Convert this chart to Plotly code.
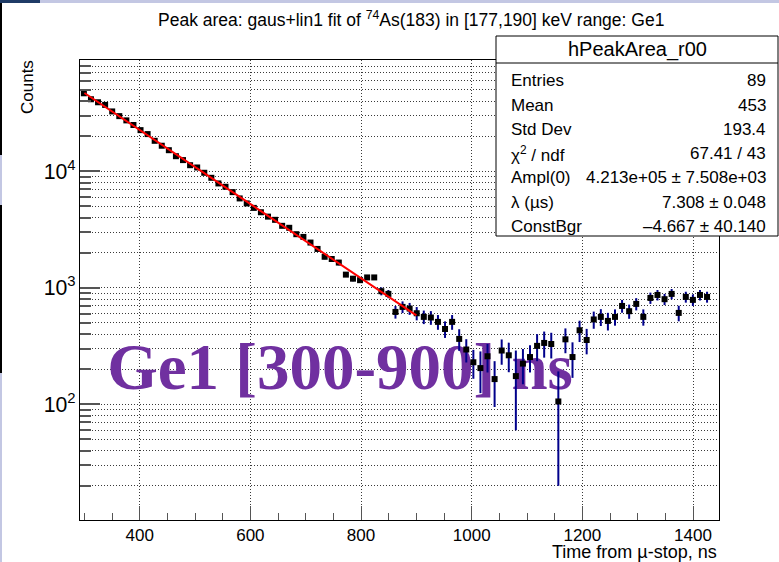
import numpy as np
import plotly.graph_objects as go

# ---- histogram contents: peak area per time bin (bin centres in ns) ----
time_ns = [
    299.0, 311.8, 324.6, 337.4, 350.2, 363.0, 375.8, 388.6, 401.4, 414.2,
    427.0, 439.8, 452.6, 465.4, 478.2, 491.0, 503.8, 516.6, 529.4, 542.2,
    555.0, 567.8, 580.6, 593.4, 606.2, 619.0, 631.8, 644.6, 657.4, 670.2,
    683.0, 695.8, 708.6, 721.4, 734.2, 747.0, 759.8, 772.6, 785.4, 798.2,
    811.0, 823.8, 836.6, 849.4, 862.2, 875.0, 887.8, 900.6, 913.4, 926.2,
    939.0, 951.8, 964.6, 977.4, 990.2, 1003.0, 1015.8, 1028.6, 1041.4, 1054.2,
    1067.0, 1079.8, 1092.6, 1105.4, 1118.2, 1131.0, 1143.8, 1156.6, 1169.4, 1182.2,
    1195.0, 1207.8, 1220.6, 1233.4, 1246.2, 1259.0, 1271.8, 1284.6, 1297.4, 1310.2,
    1323.0, 1335.8, 1348.6, 1361.4, 1374.2, 1387.0, 1399.8, 1412.6, 1425.4,
]
counts = [
    46800, 41600, 39200, 37200, 32700, 29800, 27400, 25000, 22600, 20900,
    18300, 16600, 15200, 13500, 12500, 11300, 10800, 9730, 8810, 7880,
    7380, 6640, 5860, 5310, 4860, 4460, 4090, 3840, 3410, 3280,
    2890, 2740, 2450, 2160, 1850, 1770, 1650, 1300, 1200, 1165,
    1230, 1230, 937, 888, 622, 687, 665, 606, 564, 557,
    511, 444, 511, 365, 296, 230, 205, 259, 165, 290,
    264, 175, 224, 255, 318, 337, 330, 106, 362, 255,
    433, 357, 536, 564, 521, 564, 700, 631, 729, 564,
    820, 870, 800, 888, 610, 837, 789, 870, 837,
]
count_err = [
    313, 296, 287, 280, 264, 253, 243, 233, 222, 215,
    202, 193, 186, 177, 171, 164, 161, 154, 148, 141,
    138, 132, 126, 122, 118, 115, 111, 109, 105, 104,
    100, 99, 96, 92, 89, 88, 87, 60, 60, 58,
    60, 60, 74, 72, 77, 79, 78, 79, 75, 75,
    74, 72, 74, 77, 67, 64, 80, 71, 70, 71,
    75, 115, 75, 67, 83, 85, 82, 86, 87, 86,
    90, 88, 90, 93, 90, 90, 88, 88, 88, 90,
    91, 90, 88, 90, 93, 90, 90, 90, 90,
]

# ---- fit result: Ampl(0) * exp(-lambda * t[us]) + ConstBgr ----
AMPL0 = 4.213e5
LAMBDA_US = 7.308
CONST_BGR = -4.667
FIT_LO, FIT_HI = 300.0, 900.0

stats_rows = [
    ("Entries", "89"),
    ("Mean", "453"),
    ("Std Dev", "193.4"),
    ("χ<sup>2</sup> / ndf", "67.41 / 43"),
    ("Ampl(0)", "4.213e+05 ± 7.508e+03"),
    ("λ (µs)", "7.308 ± 0.048"),
    ("ConstBgr", "–4.667 ± 40.140"),
]

# ---- canvas geometry (pixels) ----
W, H = 779, 562
ML, MR, MT, MB = 80, 60, 60, 42
PW = W - ML - MR
PH = H - MT - MB


def px(x):
    return (x - ML) / PW


def py(y):
    return (H - MB - y) / PH


FONT = "Liberation Sans, Arial, sans-serif"
GRID = "#3a3a3a"
TICK = "#555555"

fig = go.Figure()

# large overlay label, drawn underneath the data
fig.add_trace(go.Scatter(
    x=[762], y=[188], mode="text", text=["Ge1 [300-900] ns"],
    textfont=dict(family="Liberation Serif, Times New Roman, serif", size=65,
                  color="#7030a0", weight="bold"),
    hoverinfo="skip", showlegend=False,
))

# data points with vertical error bars
fig.add_trace(go.Scatter(
    x=time_ns, y=counts, mode="markers",
    marker=dict(symbol="square", size=6, color="black"),
    error_y=dict(type="data", array=count_err, color="#00008b",
                 thickness=2, width=0),
    showlegend=False,
))

# fitted curve
t_fit = np.linspace(FIT_LO, FIT_HI, 300)
y_fit = AMPL0 * np.exp(-LAMBDA_US * t_fit / 1000.0) + CONST_BGR
fig.add_trace(go.Scatter(
    x=t_fit, y=y_fit, mode="lines",
    line=dict(color="#ff0000", width=2),
    showlegend=False, hoverinfo="skip",
))

shapes = []
annotations = []

# statistics box
bx0, bx1, by0, by1, bsep = 496, 778, 36, 236, 63
shapes.append(dict(type="rect", xref="paper", yref="paper",
                   x0=px(bx0), x1=px(bx1), y0=py(by1), y1=py(by0),
                   fillcolor="white", line=dict(color="black", width=1),
                   layer="above"))
shapes.append(dict(type="line", xref="paper", yref="paper",
                   x0=px(bx0), x1=px(bx1), y0=py(bsep), y1=py(bsep),
                   line=dict(color="black", width=1), layer="above"))
annotations.append(dict(text="hPeakArea_r00", xref="paper", yref="paper",
                        x=px((bx0 + bx1) / 2), y=py(50), xanchor="center",
                        yanchor="middle", showarrow=False,
                        font=dict(family=FONT, size=20, color="black")))
row_y0, row_dy = 81, 24.2
for k, (lab, val) in enumerate(stats_rows):
    yy = py(row_y0 + k * row_dy)
    annotations.append(dict(text=lab, xref="paper", yref="paper", x=px(509),
                            y=yy, xanchor="left", yanchor="middle",
                            showarrow=False,
                            font=dict(family=FONT, size=17, color="black")))
    annotations.append(dict(text=val, xref="paper", yref="paper", x=px(768),
                            y=yy, xanchor="right", yanchor="middle",
                            showarrow=False,
                            font=dict(family=FONT, size=17, color="black")))

# title
annotations.append(dict(
    text="Peak area: gaus+lin1 fit of <sup>74</sup>As(183) in [177,190] keV range: Ge1",
    xref="paper", yref="paper", x=px(411), y=py(19), xanchor="center",
    yanchor="middle", showarrow=False,
    font=dict(family=FONT, size=17.5, color="black")))

# axis titles
annotations.append(dict(text="Time from µ-stop, ns", xref="paper", yref="paper",
                        x=1.0, y=py(552), xanchor="right", yanchor="middle",
                        showarrow=False,
                        font=dict(family=FONT, size=18, color="black")))
annotations.append(dict(text="Counts", xref="paper", yref="paper",
                        x=px(27), y=py(87), xanchor="center", yanchor="middle",
                        textangle=-90, showarrow=False,
                        font=dict(family=FONT, size=17, color="black")))

# window edge strips
edge = "#c3c7e3"
shapes += [
    dict(type="rect", xref="paper", yref="paper", x0=px(0), x1=px(40),
         y0=py(3), y1=py(0), fillcolor="#1f3b66", line=dict(width=0), layer="above"),
    dict(type="rect", xref="paper", yref="paper", x0=px(40), x1=px(W),
         y0=py(3), y1=py(0), fillcolor=edge, line=dict(width=0), layer="above"),
    dict(type="rect", xref="paper", yref="paper", x0=px(0), x1=px(2),
         y0=py(155), y1=py(3), fillcolor="black", line=dict(width=0), layer="above"),
    dict(type="rect", xref="paper", yref="paper", x0=px(0), x1=px(2),
         y0=py(205), y1=py(155), fillcolor=edge, line=dict(width=0), layer="above"),
    dict(type="rect", xref="paper", yref="paper", x0=px(0), x1=px(2),
         y0=py(373), y1=py(205), fillcolor="black", line=dict(width=0), layer="above"),
    dict(type="rect", xref="paper", yref="paper", x0=px(0), x1=px(2),
         y0=py(H), y1=py(373), fillcolor=edge, line=dict(width=0), layer="above"),
]

fig.update_layout(
    width=W, height=H,
    margin=dict(l=ML, r=MR, t=MT, b=MB, pad=0),
    paper_bgcolor="white", plot_bgcolor="white",
    showlegend=False,
    shapes=shapes, annotations=annotations,
    xaxis=dict(
        range=[292, 1447], showline=True, linecolor="black", linewidth=1,
        mirror=True, zeroline=False,
        tick0=0, dtick=200, ticks="inside", ticklen=14, tickwidth=1,
        tickcolor=TICK,
        showgrid=True, gridcolor=GRID, gridwidth=1, griddash="1px,2px",
        minor=dict(dtick=50, tick0=0, ticks="inside", ticklen=7,
                   tickcolor=TICK, showgrid=False),
        tickfont=dict(family=FONT, size=17, color="black"),
    ),
    yaxis=dict(
        type="log", range=[1.008, 4.956], showline=True, linecolor="black",
        linewidth=1, mirror=True, zeroline=False,
        dtick=1, exponentformat="power", ticks="inside", ticklen=20,
        tickwidth=2, tickcolor=TICK,
        showgrid=True, gridcolor=GRID, gridwidth=1, griddash="1px,2px",
        minor=dict(dtick="D1", ticks="inside", ticklen=11, tickwidth=2,
                   tickcolor=TICK, showgrid=True, gridcolor=GRID,
                   gridwidth=1, griddash="1px,2px"),
        tickfont=dict(family=FONT, size=17, color="black"),
    ),
)

fig.write_html("out.html")
